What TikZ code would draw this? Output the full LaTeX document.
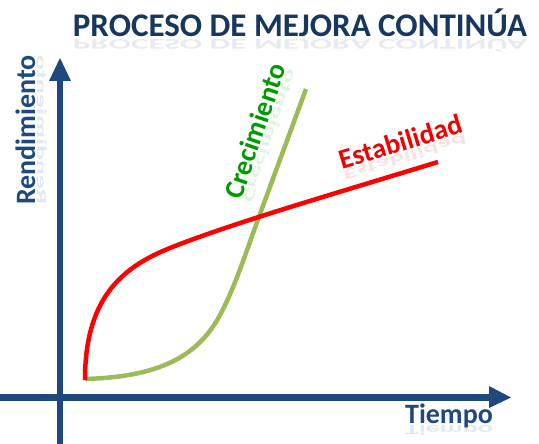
\documentclass[tikz,border=0pt]{standalone}
\usepackage{fontspec}
\setmainfont{Carlito}
\definecolor{axisblue}{HTML}{1F497D}
\definecolor{titleblue}{HTML}{17375E}
\definecolor{curvegreen}{HTML}{9BBB59}
\definecolor{textgreen}{HTML}{009A00}
\definecolor{curvered}{HTML}{FF0000}
\definecolor{textred}{HTML}{F00000}
\tikzset{
  lbl/.style={inner sep=0pt, font=\bfseries\fontsize{28}{30}\selectfont},
  refl/.style={inner sep=0pt, font=\bfseries\fontsize{28}{30}\selectfont, yscale=-0.5, opacity=0.12},
  titlestyle/.style={inner sep=0pt, font=\bfseries\fontsize{33}{36}\selectfont, text=titleblue},
  axisline/.style={draw=axisblue, line width=6.5pt},
  curve/.style={line width=4.5pt}
}
\begin{document}
\begin{tikzpicture}[x=1pt,y=-1pt]
\useasboundingbox[fill=white] (0,0) rectangle (539,444);
% axes
\draw[axisline] (60,444) -- (60,80);
\fill[axisblue] (49,81) -- (71,81) -- (60,58) -- cycle;
\draw[axisline] (0,397.5) -- (490,397.5);
\fill[axisblue] (489,386) -- (489,408) -- (511,397.5) -- cycle;
% curves
\draw[curve, curvegreen, line cap=butt] (85,379) .. controls (150,377) and (195,362) .. (220,315) .. controls (235,287) and (245,255) .. (260,214) -- (306,89);
\draw[curve, curvered, line cap=butt] (85,380) .. controls (85,300) and (120,268) .. (170,248) .. controls (230,224) and (330,195) .. (438,162);
% title
\node[titlestyle, anchor=base] (title) at (300,37) {PROCESO DE MEJORA CONTINÚA};
\node[titlestyle, anchor=base, yscale=-0.45, opacity=0.1] (titler) at (300,40) {PROCESO DE MEJORA CONTINÚA};
% Rendimiento
\begin{scope}[shift={(35,130)}, rotate=90, transform shape]
\node[lbl, text=axisblue, anchor=base] (rend) at (0pt,0pt) {Rendimiento};
\node[refl, text=axisblue, anchor=base] (rendr) at (0pt,-2pt) {Rendimiento};
\end{scope}
% Tiempo
\node[lbl, text=axisblue, anchor=base] (tiempo) at (449,423) {Tiempo};
\node[refl, text=axisblue, anchor=base] (tiempor) at (449,425) {Tiempo};
% Crecimiento
\begin{scope}[shift={(264,134)}, rotate=71, transform shape]
\node[lbl, text=textgreen, anchor=base] (crec) at (0pt,0pt) {Crecimiento};
\node[refl, text=textgreen, anchor=base] (crecr) at (0pt,-2pt) {Crecimiento};
\end{scope}
% Estabilidad
\begin{scope}[shift={(403,151)}, rotate=17, transform shape]
\node[lbl, text=textred, anchor=base] (estab) at (0pt,0pt) {Estabilidad};
\node[refl, text=textred, anchor=base] (estabr) at (0pt,-2pt) {Estabilidad};
\end{scope}
\end{tikzpicture}
\end{document}
